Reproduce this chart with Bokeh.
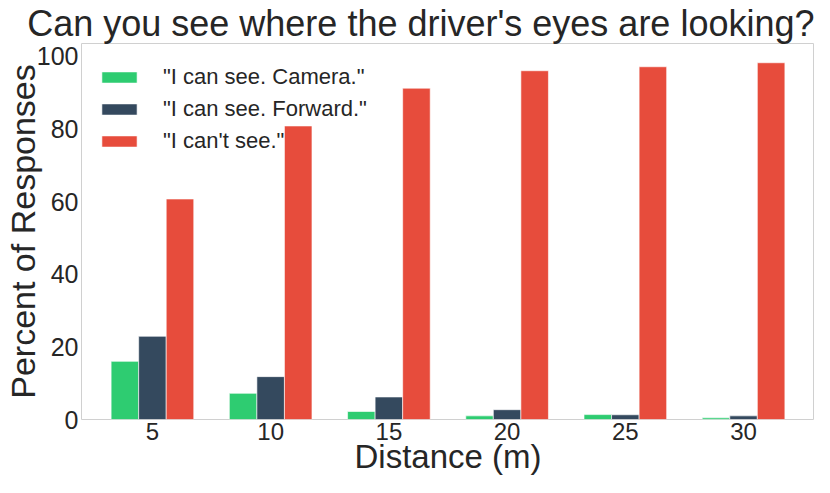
from bokeh.plotting import figure
from bokeh.models import FactorRange, FixedTicker, ColumnDataSource, Legend
from bokeh.transform import dodge
from bokeh.embed import file_html
from bokeh.resources import INLINE

distances = ["5", "10", "15", "20", "25", "30"]
camera = [16.0, 7.2, 2.2, 1.0, 1.35, 0.45]
forward = [22.9, 11.8, 6.2, 2.7, 1.3, 1.0]
cant_see = [60.7, 80.8, 91.2, 96.0, 97.1, 98.2]
series_labels = ['"I can see. Camera."', '"I can see. Forward."', '"I can\'t see."']
colors = ["#2ecc71", "#34495e", "#e74c3c"]
y_ticks = [0, 20, 40, 60, 80, 100]

FONT = "Liberation Sans"
TXT = "#262626"

src = ColumnDataSource(dict(d=distances, camera=camera, forward=forward, cant=cant_see))

p = figure(width=814, height=477, output_backend="svg", toolbar_location=None,
           x_range=FactorRange(*distances, range_padding=0.1, range_padding_units="absolute"),
           y_range=(0, 103.5),
           title="Can you see where the driver's eyes are looking?",
           min_border_left=0, min_border_right=0, min_border_top=0, min_border_bottom=0)

w = 0.233
renderers = []
for field, off, col, lab in zip(["camera", "forward", "cant"], [-w, 0, w], colors, series_labels):
    r = p.vbar(x=dodge("d", off, range=p.x_range), top=field, width=w, source=src,
               fill_color=col, line_color="white", line_alpha=0.6, line_width=1)
    renderers.append((lab, [r]))

legend = Legend(items=renderers, location=(16, 265))
legend.label_text_font = FONT
legend.label_text_font_size = "22px"
legend.label_text_color = TXT
legend.glyph_width = 44
legend.glyph_height = 14
legend.label_standoff = 22
legend.label_height = 25
legend.spacing = 6
legend.border_line_color = None
legend.background_fill_alpha = 0
legend.margin = 0
legend.padding = 0
p.add_layout(legend)

p.title.text_font = FONT
p.title.text_font_size = "36px"
p.title.text_font_style = "normal"
p.title.text_color = TXT
p.title.align = "right"
p.title.offset = 0
p.title.standoff = 0

p.outline_line_color = "#d0d0d0"
p.outline_line_width = 1
p.xgrid.grid_line_color = None
p.ygrid.grid_line_color = None

for ax in (p.xaxis[0], p.yaxis[0]):
    ax.axis_line_color = None
    ax.major_tick_line_color = None
    ax.minor_tick_line_color = None
    ax.major_tick_out = 0
    ax.major_tick_in = 0
    ax.minor_tick_out = 0
    ax.minor_tick_in = 0
    ax.major_label_text_font = FONT
    ax.major_label_text_font_size = "25px"
    ax.major_label_text_color = TXT
    ax.axis_label_text_font = FONT
    ax.axis_label_text_font_size = "34px"
    ax.axis_label_text_font_style = "normal"
    ax.axis_label_text_color = TXT
    ax.major_label_standoff = 3

p.xaxis.major_label_text_font_size = "24px"
p.xaxis.axis_label_text_font_size = "33px"
p.xaxis.axis_label_standoff = -5
p.yaxis.axis_label_standoff = -8
p.yaxis.ticker = FixedTicker(ticks=y_ticks)
p.xaxis.axis_label = "Distance (m)"
p.yaxis.axis_label = "Percent of Responses"

open("out.html", "w").write(file_html(p, INLINE))
